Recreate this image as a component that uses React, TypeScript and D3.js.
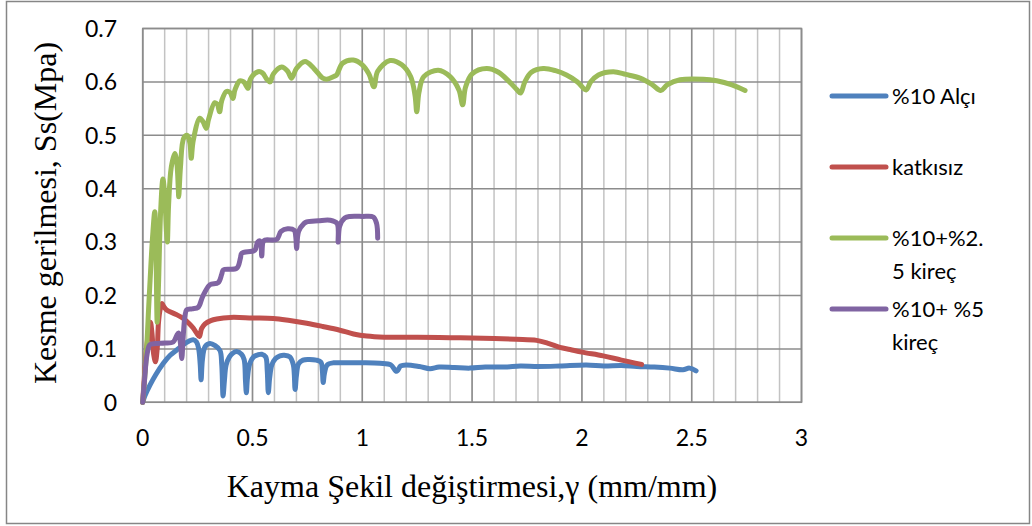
import React from "react";
import * as d3 from "d3";

// ---- data ----
const xTicks = [0, 0.5, 1, 1.5, 2, 2.5, 3];
const yTicks = [0, 0.1, 0.2, 0.3, 0.4, 0.5, 0.6, 0.7];
const xTickLabels = ["0", "0.5", "1", "1.5", "2", "2.5", "3"];
const yTickLabels = ["0", "0.1", "0.2", "0.3", "0.4", "0.5", "0.6", "0.7"];

const seriesNames = ["%10 Alçı", "katkısız", "%10+%2.\n5 kireç", "%10+ %5\nkireç"];
const seriesColors = ["#4F81BD", "#C0504D", "#9BBB59", "#8064A2"];

const alciData: [number, number][] = [
  [0, 0], [0.01, 0.012], [0.033, 0.032], [0.06, 0.052], [0.094, 0.073], [0.125, 0.088],
  [0.155, 0.098], [0.185, 0.108], [0.208, 0.114], [0.23, 0.117], [0.245, 0.113], [0.255, 0.1],
  [0.262, 0.07], [0.266, 0.042], [0.272, 0.08], [0.284, 0.104], [0.306, 0.11], [0.33, 0.106],
  [0.352, 0.097], [0.36, 0.07], [0.366, 0.012], [0.372, 0.04], [0.38, 0.07], [0.395, 0.085],
  [0.41, 0.092], [0.428, 0.095], [0.45, 0.09], [0.462, 0.08], [0.468, 0.04], [0.472, 0.018],
  [0.477, 0.045], [0.487, 0.072], [0.505, 0.085], [0.525, 0.089], [0.542, 0.09], [0.56, 0.085],
  [0.567, 0.06], [0.572, 0.018], [0.578, 0.045], [0.588, 0.07], [0.605, 0.082], [0.625, 0.087],
  [0.645, 0.088], [0.67, 0.085], [0.686, 0.07], [0.694, 0.024], [0.7, 0.05], [0.71, 0.072],
  [0.73, 0.079], [0.76, 0.08], [0.79, 0.079], [0.812, 0.075], [0.818, 0.06], [0.822, 0.037],
  [0.828, 0.055], [0.84, 0.07], [0.87, 0.074], [0.9, 0.074], [1.0, 0.074], [1.08, 0.073],
  [1.13, 0.07], [1.156, 0.058], [1.175, 0.068], [1.2, 0.07], [1.26, 0.067], [1.308, 0.063],
  [1.35, 0.066], [1.42, 0.065], [1.49, 0.064], [1.56, 0.066], [1.65, 0.066], [1.72, 0.068],
  [1.8, 0.067], [1.9, 0.068], [2.02, 0.07], [2.1, 0.068], [2.18, 0.069], [2.25, 0.067],
  [2.33, 0.066], [2.4, 0.064], [2.46, 0.061], [2.49, 0.064], [2.52, 0.059],
];

const katkisizData: [number, number][] = [
  [0, 0], [0.008, 0.05], [0.02, 0.11], [0.035, 0.15], [0.042, 0.13], [0.05, 0.09],
  [0.058, 0.076], [0.066, 0.1], [0.072, 0.15], [0.08, 0.175], [0.088, 0.185], [0.095, 0.18],
  [0.109, 0.173], [0.15, 0.165], [0.185, 0.157], [0.21, 0.148], [0.23, 0.139], [0.248, 0.128],
  [0.258, 0.123], [0.268, 0.138], [0.284, 0.147], [0.31, 0.153], [0.337, 0.156], [0.4, 0.159],
  [0.5, 0.158], [0.595, 0.157], [0.67, 0.153], [0.747, 0.148], [0.82, 0.142], [0.898, 0.135],
  [0.96, 0.128], [1.02, 0.124], [1.1, 0.122], [1.25, 0.122], [1.4, 0.121], [1.55, 0.12],
  [1.7, 0.118], [1.794, 0.116], [1.85, 0.11], [1.9, 0.103], [1.946, 0.099], [2.0, 0.094],
  [2.097, 0.087], [2.18, 0.079], [2.272, 0.071],
];

const kirec25Data: [number, number][] = [
  [0, 0], [0.015, 0.08], [0.03, 0.2], [0.045, 0.31], [0.055, 0.357], [0.06, 0.3],
  [0.066, 0.15], [0.072, 0.22], [0.082, 0.36], [0.092, 0.418], [0.1, 0.39], [0.108, 0.32],
  [0.112, 0.3], [0.118, 0.37], [0.13, 0.44], [0.146, 0.466], [0.155, 0.45], [0.162, 0.4],
  [0.164, 0.385], [0.172, 0.44], [0.187, 0.495], [0.203, 0.5], [0.215, 0.485], [0.221, 0.457],
  [0.23, 0.49], [0.26, 0.532], [0.275, 0.525], [0.29, 0.513], [0.3, 0.53], [0.328, 0.561],
  [0.34, 0.558], [0.35, 0.544], [0.36, 0.565], [0.381, 0.582], [0.398, 0.58], [0.411, 0.569],
  [0.42, 0.585], [0.442, 0.602], [0.46, 0.6], [0.48, 0.588], [0.49, 0.605], [0.525, 0.619],
  [0.545, 0.617], [0.565, 0.605], [0.58, 0.6], [0.595, 0.615], [0.633, 0.628], [0.66, 0.62],
  [0.678, 0.607], [0.7, 0.625], [0.739, 0.638], [0.78, 0.625], [0.82, 0.607], [0.838, 0.605],
  [0.87, 0.61], [0.883, 0.613], [0.91, 0.635], [0.959, 0.641], [1.0, 0.632], [1.03, 0.615],
  [1.053, 0.591], [1.07, 0.62], [1.126, 0.64], [1.18, 0.632], [1.22, 0.61], [1.24, 0.575],
  [1.248, 0.544], [1.258, 0.58], [1.28, 0.61], [1.346, 0.622], [1.4, 0.61], [1.44, 0.585],
  [1.457, 0.557], [1.47, 0.59], [1.5, 0.615], [1.566, 0.625], [1.62, 0.618], [1.67, 0.6],
  [1.705, 0.585], [1.721, 0.579], [1.74, 0.6], [1.77, 0.618], [1.824, 0.625], [1.88, 0.621],
  [1.93, 0.613], [1.98, 0.6], [2.019, 0.585], [2.04, 0.6], [2.075, 0.613], [2.143, 0.619],
  [2.2, 0.614], [2.265, 0.607], [2.32, 0.595], [2.359, 0.584], [2.39, 0.595], [2.447, 0.604],
  [2.553, 0.605], [2.614, 0.602], [2.68, 0.595], [2.743, 0.584],
];

const kirec5Data: [number, number][] = [
  [0, 0], [0.008, 0.04], [0.02, 0.09], [0.033, 0.108], [0.06, 0.11], [0.1, 0.111],
  [0.139, 0.113], [0.155, 0.125], [0.163, 0.13], [0.172, 0.11], [0.178, 0.082], [0.184, 0.12],
  [0.192, 0.16], [0.2, 0.173], [0.225, 0.175], [0.253, 0.178], [0.27, 0.195], [0.284, 0.207],
  [0.306, 0.22], [0.344, 0.224], [0.36, 0.24], [0.367, 0.248], [0.428, 0.251], [0.445, 0.27],
  [0.451, 0.279], [0.511, 0.285], [0.523, 0.3], [0.535, 0.302], [0.542, 0.274], [0.548, 0.3],
  [0.557, 0.304], [0.61, 0.305], [0.63, 0.32], [0.66, 0.325], [0.69, 0.322], [0.697, 0.31],
  [0.701, 0.288], [0.71, 0.32], [0.735, 0.335], [0.747, 0.338], [0.8, 0.34], [0.853, 0.341],
  [0.885, 0.335], [0.89, 0.3], [0.897, 0.33], [0.92, 0.345], [0.944, 0.348], [1.0, 0.348],
  [1.05, 0.347], [1.065, 0.335], [1.07, 0.307],
];

const allSeries = [alciData, katkisizData, kirec25Data, kirec5Data];

const W = 1032;
const H = 526;
const LABEL_FONT = "Lato, 'Open Sans', sans-serif";
const TITLE_FONT = "'Liberation Serif', 'DejaVu Serif', serif";

export default function App() {
  const x = d3.scaleLinear().domain([0, 3]).range([142.7, 801.5]);
  const y = d3.scaleLinear().domain([0, 0.7]).range([402.3, 28.5]);
  const line = d3
    .line<[number, number]>()
    .x((d) => x(d[0]))
    .y((d) => y(d[1]))
    .curve(d3.curveCatmullRom.alpha(0.5));

  const minorX = d3.range(0, 31).map((i) => i / 10);
  const legendY = [96, 167, 238, 309];

  return (
    <svg
      width={W}
      height={H}
      style={{ position: "absolute", left: 0, top: 0, display: "block", background: "#fff" }}
    >
      <rect x={6.5} y={1.5} width={1023} height={522} fill="#fff" stroke="#868686" strokeWidth={1.5} />
      {minorX.map((v, i) => (
        <line key={"mx" + i} x1={x(v)} x2={x(v)} y1={y(0)} y2={y(0.7)} stroke="#C3C3C3" strokeWidth={1.5} />
      ))}
      {xTicks.map((v, i) => (
        <line key={"Mx" + i} x1={x(v)} x2={x(v)} y1={y(0)} y2={y(0.7)} stroke="#8C8C8C" strokeWidth={1.5} />
      ))}
      {yTicks.map((v, i) => (
        <line key={"My" + i} x1={x(0)} x2={x(3)} y1={y(v)} y2={y(v)} stroke="#8C8C8C" strokeWidth={1.5} />
      ))}
      <rect x={x(0)} y={y(0.7)} width={x(3) - x(0)} height={y(0) - y(0.7)} fill="none" stroke="#8C8C8C" strokeWidth={1.5} />

      {allSeries.map((s, i) => (
        <path
          key={"s" + i}
          d={line(s) || ""}
          fill="none"
          stroke={seriesColors[i]}
          strokeWidth={5}
          strokeLinejoin="round"
          strokeLinecap="round"
        />
      ))}

      {yTicks.map((v, i) => (
        <text
          key={"yt" + i}
          x={117}
          y={y(v)}
          dy="0.36em"
          textAnchor="end"
          fontFamily={LABEL_FONT}
          fontSize={23}
          fill="#000"
        >
          {yTickLabels[i]}
        </text>
      ))}
      {xTicks.map((v, i) => (
        <text
          key={"xt" + i}
          x={x(v)}
          y={438}
          dy="0.36em"
          textAnchor="middle"
          fontFamily={LABEL_FONT}
          fontSize={23}
          fill="#000"
        >
          {xTickLabels[i]}
        </text>
      ))}

      <text
        x={472}
        y={487}
        dy="0.32em"
        textAnchor="middle"
        fontFamily={TITLE_FONT}
        fontSize={32}
        fill="#000"
      >
        Kayma Şekil değiştirmesi,γ (mm/mm)
      </text>
      <text
        transform={`translate(46,213) rotate(-90)`}
        dy="0.32em"
        textAnchor="middle"
        fontFamily={TITLE_FONT}
        fontSize={32}
        fill="#000"
      >
        Kesme gerilmesi, Ss(Mpa)
      </text>

      {seriesNames.map((name, i) => (
        <g key={"lg" + i}>
          <line
            x1={832}
            x2={886}
            y1={legendY[i]}
            y2={legendY[i]}
            stroke={seriesColors[i]}
            strokeWidth={5}
            strokeLinecap="round"
          />
          {name.split("\n").map((part, j) => (
            <text
              key={j}
              x={892}
              y={legendY[i] + j * 33}
              dy="0.36em"
              fontFamily={LABEL_FONT}
              fontSize={22}
              fill="#000"
            >
              {part}
            </text>
          ))}
        </g>
      ))}
    </svg>
  );
}
